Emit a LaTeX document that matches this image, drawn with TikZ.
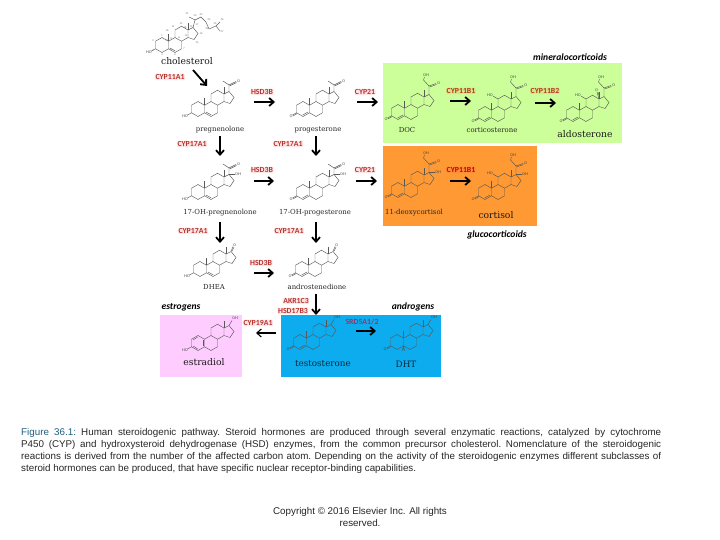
\documentclass[tikz,border=0pt]{standalone}
\usepackage{fontspec}
\setmainfont{Liberation Sans}
\newfontfamily\molfont{DejaVu Serif}
\newfontfamily\enzfont{Carlito}
\usetikzlibrary{arrows.meta}

\definecolor{mineralgreen}{HTML}{CCFF99}
\definecolor{glucoorange}{HTML}{FF9933}
\definecolor{estrogenpink}{HTML}{FFCCFF}
\definecolor{androgenblue}{HTML}{0CACEE}
\definecolor{enzymered}{HTML}{B8322E}
\definecolor{reductasemauve}{HTML}{8A3A6A}
\definecolor{captionteal}{HTML}{1F5F80}

\tikzset{
    bond/.style={line width=0.45pt, black!65},
    atom/.style={font=\sffamily\fontsize{3.8}{4}\selectfont, inner sep=0pt, black!75},
    rxn/.style={-{Straight Barb[length=4.5pt, width=8pt]}, line width=1.8pt},
    enzyme/.style={font=\enzfont\bfseries\fontsize{7.8}{8}\selectfont, text=enzymered, fill=red!60, fill opacity=0.16, text opacity=1, inner sep=0.6pt, rounded corners=1pt},
    molname/.style={font=\molfont\fontsize{6.9}{8}\selectfont, black!85},
    bigname/.style={font=\molfont\fontsize{9.2}{10}\selectfont, black!90},
    classname/.style={font=\enzfont\bfseries\itshape\fontsize{9.6}{10}\selectfont},
    pics/rings/.style={code={
        \draw[bond] (0,-7.5) -- (6.5,-3.75) -- (6.5,3.75) -- (0,7.5) -- (-6.5,3.75) -- (-6.5,-3.75) -- cycle;
        \draw[bond] (6.5,-3.75) -- (13,-7.5) -- (19.5,-3.75) -- (19.5,3.75) -- (13,7.5) -- (6.5,3.75);
        \draw[bond] (13,-7.5) -- (13,-15) -- (19.5,-18.75) -- (26,-15) -- (26,-7.5) -- (19.5,-3.75);
        \draw[bond] (26,-15) -- (31,-17.5) -- (36,-11.5) -- (32,-5.5) -- (26,-7.5);
        \draw[bond] (26,-15) -- (26,-22);
    }},
    pics/me19/.style={code={\draw[bond] (6.5,-3.75) -- (6.5,-11);}},
    pics/hoA/.style={code={
        \draw[bond] (-6.5,3.75) -- (-10.5,6);
        \node[atom] (ho) at (-13,7) {HO};
    }},
    pics/oxoA/.style={code={
        \draw[bond] (-6.5,3.75) -- (-10.5,6);
        \draw[bond] (-6,4.6) -- (-10,6.9);
        \node[atom] (oxo) at (-12,7.4) {O};
    }},
    pics/eneA/.style={code={\draw[bond] (-0.3,6) -- (5,3);}},
    pics/eneB/.style={code={\draw[bond] (8,3) -- (13.3,6);}},
    pics/arom/.style={code={
        \draw[bond] (-0.3,-6) -- (-5,-3);
        \draw[bond] (-0.3,6) -- (-5,3);
        \draw[bond] (5,-3) -- (5,3);
    }},
    pics/acetyl/.style={code={
        \draw[bond] (31,-17.5) -- (31,-24) -- (25,-28);
        \draw[bond] (31,-24) -- (38,-27.5);
        \draw[bond] (31.5,-23) -- (38.5,-26.5);
        \node[atom] (ketone) at (40.5,-28) {O};
    }},
    pics/ketol/.style={code={
        \draw[bond] (31,-17.5) -- (31,-26) -- (25.5,-32) -- (26.5,-35);
        \draw[bond] (31,-26) -- (38,-28.5);
        \draw[bond] (31.5,-25) -- (38.5,-27.5);
        \node[atom] (ketone) at (40.5,-29) {O};
        \node[atom] (alcohol) at (28,-37) {OH};
    }},
    pics/oh17/.style={code={
        \draw[bond] (31,-17.5) -- (37,-17.5);
        \node[atom] (hydroxy) at (40,-17.5) {OH};
    }},
    pics/oh17b/.style={code={
        \draw[bond] (31,-17.5) -- (34,-22.5);
        \node[atom] (hydroxy) at (37,-24.5) {OH};
    }},
    pics/oxo17/.style={code={
        \draw[bond] (31,-17.5) -- (33,-22.5);
        \draw[bond] (32,-18) -- (34,-22);
        \node[atom] (oxoD) at (34.5,-24) {O};
    }},
    pics/oh11/.style={code={
        \draw[bond] (13,-15) -- (8,-18);
        \node[atom] (hydroxyC) at (5,-19) {HO};
    }},
    pics/cho/.style={code={
        \draw[bond] (26,-15) -- (24,-22);
        \draw[bond] (27,-15) -- (25,-22);
        \node[atom] (aldehyde) at (23.5,-24) {O};
    }},
    pics/hdt/.style={code={
        \draw[bond] (6.5,3.75) -- (6.5,7);
        \node[atom] (hyd) at (6.5,8.5) {H};
    }},
    pics/tail/.style={code={
        \draw[bond] (31,-17.5) -- (33,-25) -- (39,-28) -- (44,-23) -- (47,-16) -- (54,-19) -- (58,-23);
        \draw[bond] (33,-25) -- (27,-28);
        \draw[bond] (54,-19) -- (58,-14);
    }},
}
\newcommand{\mol}[2]{\foreach \part in {#2} {\pic at (#1) {\part};}}

\begin{document}
\begin{tikzpicture}[x=1pt, y=-1pt]
    \useasboundingbox (0,0) rectangle (720,540);

    \node[fill=mineralgreen, minimum width=239pt, minimum height=80pt, inner sep=0pt] (mineralbox) at (502.5,103.5) {};
    \node[fill=glucoorange, minimum width=154pt, minimum height=80pt, inner sep=0pt] (glucobox) at (460,186) {};
    \node[fill=estrogenpink, minimum width=82pt, minimum height=62pt, inner sep=0pt] (estrogenbox) at (201,346) {};
    \node[fill=androgenblue, minimum width=160pt, minimum height=62pt, inner sep=0pt] (androgenbox) at (361,346) {};

    \mol{162,45}{rings,me19,hoA,eneB,tail}
    \mol{198,109}{rings,me19,hoA,eneB,acetyl}
    \mol{303,109}{rings,me19,oxoA,eneA,acetyl}
    \mol{398,112}{rings,me19,oxoA,eneA,ketol}
    \mol{485,114}{rings,me19,oxoA,eneA,ketol,oh11}
    \mol{573,114}{rings,me19,oxoA,eneA,ketol,oh11,cho}
    \mol{198,192}{rings,me19,hoA,eneB,acetyl,oh17}
    \mol{303,192}{rings,me19,oxoA,eneA,acetyl,oh17}
    \mol{398,190}{rings,me19,oxoA,eneA,ketol,oh17}
    \mol{485,192}{rings,me19,oxoA,eneA,ketol,oh17,oh11}
    \mol{200,269}{rings,me19,hoA,eneB,oxo17}
    \mol{302,269}{rings,me19,oxoA,eneA,oxo17}
    \mol{198,343}{rings,hoA,arom,oh17b}
    \mol{300,342}{rings,me19,oxoA,eneA,oh17b}
    \mol{397,342}{rings,me19,oxoA,hdt,oh17b}

    \foreach \num/\xn/\yn in {1/162/35.5,2/153/41,3/153/51,4/162/55,5/171/50,6/175/55,7/184/49,8/179/38,9/171/39,10/167/41,
        11/173/27,12/181/24,13/191/27,14/186/36,15/197/43,16/201/34,17/197/25,18/185/28,19/167/31,20/195/16,
        21/187/14,22/201/15,23/209/20,24/207/29,25/215/24,26/222/20,27/222/32} {
        \node[font=\sffamily\fontsize{2.6}{3}\selectfont, text=black!60, inner sep=0pt] (c\num) at (\xn,\yn) {\num};
    }

    \node[bigname] (cholesterol) at (187,61) {cholesterol};
    \node[molname] (pregnenolone) at (220,130) {pregnenolone};
    \node[molname] (progesterone) at (318,130) {progesterone};
    \node[molname] (doc) at (407,130) {DOC};
    \node[molname] (corticosterone) at (492,130) {corticosterone};
    \node[bigname] (aldosterone) at (585,134) {aldosterone};
    \node[molname] (ohpreg) at (220,213) {17-OH-pregnenolone};
    \node[molname] (ohprog) at (315,213) {17-OH-progesterone};
    \node[molname] (deoxycortisol) at (414,213) {11-deoxycortisol};
    \node[bigname] (cortisol) at (496,215) {cortisol};
    \node[molname] (dhea) at (214,287) {DHEA};
    \node[molname] (androstenedione) at (317,287) {androstenedione};
    \node[bigname] (estradiol) at (204,362) {estradiol};
    \node[bigname, font=\molfont\fontsize{8.8}{10}\selectfont, text=black!75!androgenblue] (testosterone) at (323,364) {testosterone};
    \node[bigname, font=\molfont\fontsize{8.8}{10}\selectfont, text=black!75!androgenblue] (dht) at (406,364) {DHT};

    \node[classname] (mineralocorticoids) at (570,57) {mineralocorticoids};
    \node[classname] (glucocorticoids) at (497,235) {glucocorticoids};
    \node[classname] (estrogens) at (181,307) {estrogens};
    \node[classname] (androgens) at (413,307) {androgens};

    \node[enzyme] (cyp11a) at (170,77) {CYP11A1};
    \node[enzyme] (hsdA) at (262,92) {HSD3B};
    \node[enzyme] (cyp21A) at (365,92) {CYP21};
    \node[enzyme, fill=orange] (cyp11bA) at (461,91) {CYP11B1};
    \node[enzyme, fill=orange] (cyp11bB) at (545,91) {CYP11B2};
    \node[enzyme] (cyp17A) at (192,144) {CYP17A1};
    \node[enzyme] (cyp17B) at (288,144) {CYP17A1};
    \node[enzyme] (hsdB) at (262,170) {HSD3B};
    \node[enzyme] (cyp21B) at (365,170) {CYP21};
    \node[enzyme, text=red!80!black] (cyp11bC) at (461,170) {CYP11B1};
    \node[enzyme] (cyp17C) at (193,231) {CYP17A1};
    \node[enzyme] (cyp17D) at (289,231) {CYP17A1};
    \node[enzyme] (hsdC) at (261,263) {HSD3B};
    \node[enzyme] (akr) at (296,301) {AKR1C3};
    \node[enzyme] (hsd17) at (293,311) {HSD17B3};
    \node[enzyme] (cyp19) at (258,323) {CYP19A1};
    \node[enzyme, fill=none, text=reductasemauve] (srd) at (362,322) {SRD5A1/2};

    \foreach \name/\xa/\ya/\xb/\yb in {chol/193/70/207/86, hA/254/102/275/102, pA/357/102/378/102,
        mA/450/101/471/101, mB/535/103/556/103, vA/220/136/220/156, vB/316/136/316/156,
        hB/254/181/274/181, pB/356/181/377/181, gA/450/181/471/181, vC/220/222/220/243,
        vD/316/222/316/243, hC/254/273/274/273, vE/316/294/316/315, sA/356/331/376/331} {
        \coordinate (\name-s) at (\xa,\ya);
        \coordinate (\name-e) at (\xb,\yb);
        \draw[rxn] (\name-s) -- (\name-e);
    }
    \coordinate (arom-s) at (276,333);
    \coordinate (arom-e) at (256,333);
    \draw[rxn, line width=1.1pt] (arom-s) -- (arom-e);

    \node[anchor=north west, inner sep=0pt, text width=640pt, align=justify, font=\fontsize{9.8}{12}\selectfont\frenchspacing, text=black!85] (caption) at (21,428.5) {%
        {\color{captionteal}Figure 36.1:} Human steroidogenic pathway. Steroid hormones are produced through several enzymatic reactions, catalyzed by cytochrome\linebreak
        P450 (CYP) and hydroxysteroid dehydrogenase (HSD) enzymes, from the common precursor cholesterol. Nomenclature of the steroidogenic\linebreak
        reactions is derived from the number of the affected carbon atom. Depending on the activity of the steroidogenic enzymes different subclasses of\linebreak
        steroid hormones can be produced, that have specific nuclear receptor-binding capabilities.};
    \node[align=center, inner sep=0pt, font=\fontsize{9.8}{12}\selectfont, text=black!85] (copyright) at (360,517) {Copyright © 2016 Elsevier Inc. All rights\\reserved.};
\end{tikzpicture}
\end{document}
